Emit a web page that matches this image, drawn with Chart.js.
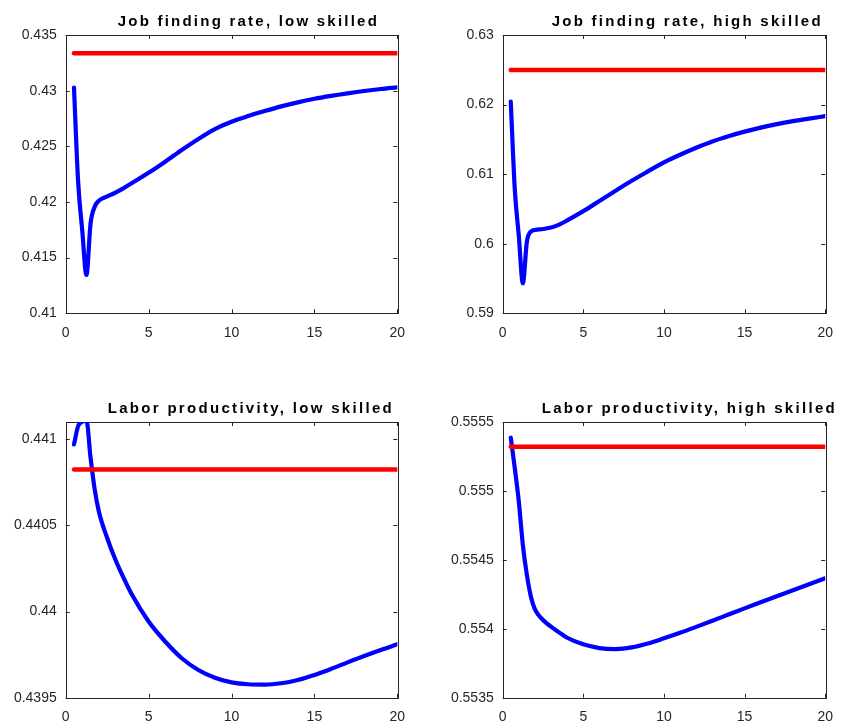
<!DOCTYPE html>
<html>
<head>
<meta charset="utf-8">
<script src="https://cdn.jsdelivr.net/npm/chart.js@4.4.1/dist/chart.umd.min.js"></script>
<style>
  body { margin: 0; background: #fff; }
  #wrap { position: relative; width: 844px; height: 724px; }
  canvas { position: absolute; }
</style>
</head>
<body>
<div id="wrap">
  <canvas id="jf-low" width="422" height="362" style="left:0;top:0"></canvas>
  <canvas id="jf-high" width="422" height="362" style="left:422px;top:0"></canvas>
  <canvas id="lp-low" width="422" height="362" style="left:0;top:362px"></canvas>
  <canvas id="lp-high" width="422" height="362" style="left:422px;top:362px"></canvas>
</div>
<script>
// ─── Data ──────────────────────────────────────────────────

const quarters = [0.5, 0.75, 1, 1.25, 1.5, 1.75, 2, 2.5, 3, 3.5, 4,
    5, 6, 7, 8, 9, 10, 11, 12, 13, 14, 15, 16, 17, 18, 19, 20];

const jfLow = [0.43027, 0.4218, 0.41742, 0.41344, 0.41808, 0.41958, 0.42011, 0.4205, 0.42085, 0.42125, 0.4217,
    0.42262, 0.42362, 0.42467, 0.42566, 0.42655, 0.42721, 0.42772, 0.42817, 0.42859, 0.42895, 0.42927,
    0.42953, 0.42976, 0.42997, 0.43015, 0.4303];

const jfHigh = [0.62042, 0.6078, 0.6011, 0.59432, 0.6003, 0.60174, 0.60198, 0.60212, 0.60232, 0.60275, 0.60335,
    0.60468, 0.60614, 0.60761, 0.60905, 0.61039, 0.61169, 0.61279, 0.61379, 0.6147, 0.61545, 0.61611,
    0.61669, 0.61719, 0.61762, 0.61799, 0.61833];

const lpLow = [0.44097, 0.441076, 0.441101, 0.441109, 0.440892, 0.440708, 0.440581, 0.440427, 0.440301, 0.440194, 0.440097,
    0.439942, 0.439826, 0.439729, 0.439661, 0.439616, 0.439589, 0.439578, 0.439576, 0.439584, 0.439603, 0.439632,
    0.439667, 0.439705, 0.439742, 0.439777, 0.43981];

const lpHigh = [0.555386, 0.555164, 0.554922, 0.554608, 0.55439, 0.554233, 0.554141, 0.554064, 0.554015, 0.553974, 0.553935,
    0.553887, 0.55386, 0.553853, 0.553865, 0.553893, 0.553931, 0.553971, 0.554014, 0.554058, 0.554103, 0.554148,
    0.554192, 0.554236, 0.554279, 0.554323, 0.554366];

// steady-state levels (red lines)
const steadyJfLow = 0.43336;
const steadyJfHigh = 0.62497;
const steadyLpLow = 0.440824;
const steadyLpHigh = 0.555321;

const steadySpan = [0.5, 20];

// tick labels
const xTicks = [0, 5, 10, 15, 20];
const jfLowTicks = [0.41, 0.415, 0.42, 0.425, 0.43, 0.435];
const jfHighTicks = [0.59, 0.6, 0.61, 0.62, 0.63];
const lpLowTicks = [0.4395, 0.44, 0.4405, 0.441];
const lpHighTicks = [0.5535, 0.554, 0.5545, 0.555, 0.5555];

const AXIS_COLOR = '#262626';
const FONT = '"Liberation Sans", Arial, sans-serif';

// ─── Plugins: MATLAB-ish box with inner ticks, spaced title ─

const boxPlugin = {
    id: 'matlabBox',
    beforeDatasetsDraw(chart) {
        const { ctx, chartArea: a, scales: { x, y } } = chart;
        ctx.save();
        ctx.strokeStyle = AXIS_COLOR;
        ctx.lineWidth = 1;
        ctx.strokeRect(Math.round(a.left) + 0.5, Math.round(a.top) + 0.5,
            Math.round(a.right - a.left), Math.round(a.bottom - a.top));
        ctx.beginPath();
        x.ticks.forEach(t => {
            const px = Math.round(x.getPixelForValue(t.value)) + 0.5;
            ctx.moveTo(px, a.bottom); ctx.lineTo(px, a.bottom - 4);
            ctx.moveTo(px, a.top); ctx.lineTo(px, a.top + 4);
        });
        y.ticks.forEach(t => {
            const py = Math.round(y.getPixelForValue(t.value)) + 0.5;
            ctx.moveTo(a.left, py); ctx.lineTo(a.left + 4, py);
            ctx.moveTo(a.right, py); ctx.lineTo(a.right - 4, py);
        });
        ctx.stroke();
        ctx.restore();
    },
};

const titlePlugin = {
    id: 'spacedTitle',
    afterDraw(chart, args, opts) {
        const { ctx, chartArea: a } = chart;
        ctx.save();
        ctx.font = 'bold 15px ' + FONT;
        ctx.fillStyle = '#000';
        ctx.textAlign = 'left';
        ctx.textBaseline = 'alphabetic';
        // stretch the letter spacing so the title spans [from, to]
        const w0 = ctx.measureText(opts.text).width;
        const gap = (opts.to - opts.from - w0) / (opts.text.length - 1);
        ctx.letterSpacing = gap.toFixed(2) + 'px';
        ctx.fillText(opts.text, a.left + opts.from, a.top - 9);
        ctx.restore();
    },
};

function fmt(v) {
    return String(parseFloat(v.toFixed(6)));
}

function makePanel(id, cfg) {
    const pts = quarters.map((q, i) => ({ x: q, y: cfg.values[i] }));
    const steady = steadySpan.map(q => ({ x: q, y: cfg.steady }));

    new Chart(document.getElementById(id), {
        type: 'line',
        data: {
            datasets: [
                {
                    data: steady,
                    borderColor: '#ff0000',
                    borderWidth: 4.5,
                    borderCapStyle: 'round',
                    pointRadius: 0,
                    order: 0,
                },
                {
                    data: pts,
                    borderColor: '#0000ff',
                    borderWidth: 4.2,
                    borderCapStyle: 'round',
                    borderJoinStyle: 'round',
                    cubicInterpolationMode: 'monotone',
                    pointRadius: 0,
                    order: 1,
                },
            ],
        },
        options: {
            responsive: false,
            animation: false,
            events: [],
            layout: { padding: { left: 0, top: cfg.top, right: cfg.right, bottom: 0 } },
            plugins: {
                legend: { display: false },
                tooltip: { enabled: false },
                spacedTitle: { text: cfg.title, from: cfg.titleFrom, to: cfg.titleTo },
            },
            scales: {
                x: {
                    type: 'linear',
                    min: 0,
                    max: 20,
                    afterBuildTicks: s => { s.ticks = xTicks.map(v => ({ value: v })); },
                    afterFit: s => { s.height = cfg.bottomH; },
                    grid: { display: false, drawTicks: false },
                    border: { display: false },
                    ticks: { color: AXIS_COLOR, font: { family: FONT, size: 14 }, padding: 11, maxRotation: 0 },
                },
                y: {
                    type: 'linear',
                    min: cfg.yMin,
                    max: cfg.yMax,
                    bounds: 'data',
                    afterBuildTicks: s => { s.ticks = cfg.yTicks.map(v => ({ value: v })); },
                    afterFit: s => { s.width = cfg.leftW; },
                    grid: { display: false, drawTicks: false },
                    border: { display: false },
                    ticks: {
                        color: AXIS_COLOR,
                        font: { family: FONT, size: 14 },
                        padding: 9,
                        callback: fmt,
                    },
                },
            },
        },
        plugins: [boxPlugin, titlePlugin],
    });
}

makePanel('jf-low', {
    values: jfLow, steady: steadyJfLow,
    yMin: 0.41, yMax: 0.435, yTicks: jfLowTicks,
    title: 'Job finding rate, low skilled', titleFrom: 52, titleTo: 311,
    leftW: 65.7, right: 24.7, top: 35, bottomH: 48.7,
});

makePanel('jf-high', {
    values: jfHigh, steady: steadyJfHigh,
    yMin: 0.59, yMax: 0.63, yTicks: jfHighTicks,
    title: 'Job finding rate, high skilled', titleFrom: 49, titleTo: 318,
    leftW: 80.7, right: 8.7, top: 35, bottomH: 48.7,
});

makePanel('lp-low', {
    values: lpLow, steady: steadyLpLow,
    yMin: 0.4395, yMax: 0.4411, yTicks: lpLowTicks,
    title: 'Labor productivity, low skilled', titleFrom: 42, titleTo: 326,
    leftW: 65.7, right: 24.7, top: 60, bottomH: 26.3,
});

makePanel('lp-high', {
    values: lpHigh, steady: steadyLpHigh,
    yMin: 0.5535, yMax: 0.5555, yTicks: lpHighTicks,
    title: 'Labor productivity, high skilled', titleFrom: 39, titleTo: 332,
    leftW: 80.7, right: 8.7, top: 60, bottomH: 26.3,
});
</script>
</body>
</html>
